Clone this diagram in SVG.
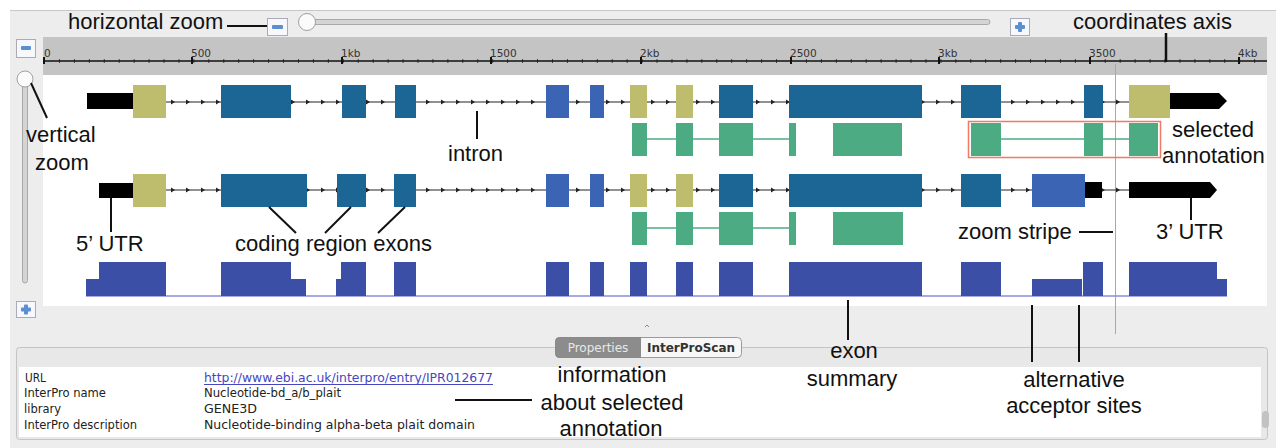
<svg xmlns="http://www.w3.org/2000/svg" width="1276" height="448" viewBox="0 0 1276 448">
<style>
.lbl{font-family:"Liberation Sans",Arial,sans-serif;font-size:22px;fill:#111}
.ax{font-family:"DejaVu Sans",sans-serif;font-size:10.5px;fill:#333}
.prop{font-family:"DejaVu Sans",sans-serif;font-size:12px;fill:#222}
.ptr{stroke:#111;stroke-width:2;fill:none}
.teal{fill:#1c6696}
.blue{fill:#3c64b4}
.khaki{fill:#bdbd6d}
.green{fill:#4dab83}
.utr{fill:#000}
.sum{fill:#3b4fa6}
.btn{fill:#f6f8fb;stroke:#aab;stroke-width:1}
.gl{stroke:#4dab83;stroke-width:1.5}
</style>
<defs>
<pattern id="in1" patternUnits="userSpaceOnUse" x="0" y="98" width="15" height="8">
<line x1="0" y1="4" x2="15" y2="4" stroke="#555" stroke-width="1.3"/>
<polygon points="6,1.5 10,4 6,6.5" fill="#222"/>
</pattern>
<pattern id="in2" patternUnits="userSpaceOnUse" x="0" y="186" width="15" height="8">
<line x1="0" y1="4" x2="15" y2="4" stroke="#555" stroke-width="1.3"/>
<polygon points="6,1.5 10,4 6,6.5" fill="#222"/>
</pattern>
<pattern id="minor" patternUnits="userSpaceOnUse" x="44" y="59" width="14.94" height="4">
<line x1="0.5" y1="0" x2="0.5" y2="4" stroke="#444" stroke-width="1"/>
</pattern>
</defs>

<!-- window background -->
<rect x="0" y="0" width="1276" height="448" fill="#ffffff"/>
<rect x="10" y="10" width="1266" height="438" fill="#ededed"/>
<line x1="10" y1="10.5" x2="1276" y2="10.5" stroke="#c8c8c8"/>

<!-- horizontal zoom slider -->
<g id="hzoom">
<rect x="300" y="19.5" width="690" height="5" rx="2.5" fill="#d4d4d4" stroke="#a8a8a8"/>
<rect class="btn" x="267.5" y="18.5" width="20" height="17"/>
<rect x="272" y="25" width="11" height="4" rx="1" fill="#5b8fd0"/>
<circle cx="307" cy="22" r="8.5" fill="#fbfbfb" stroke="#a0a0a0"/>
<rect class="btn" x="1010.5" y="18.5" width="19" height="17"/>
<rect x="1015" y="25" width="10" height="4" rx="1" fill="#5b8fd0"/>
<rect x="1018" y="22" width="4" height="10" rx="1" fill="#5b8fd0"/>
</g>

<!-- vertical zoom slider -->
<g id="vzoom">
<rect class="btn" x="16.5" y="39.5" width="19" height="18"/>
<rect x="21" y="46" width="10" height="4" rx="1" fill="#5b8fd0"/>
<rect x="22.5" y="84" width="5" height="199" rx="2.5" fill="#d4d4d4" stroke="#a8a8a8"/>
<circle cx="25" cy="79" r="8" fill="#fbfbfb" stroke="#a0a0a0"/>
<rect class="btn" x="16.5" y="301.5" width="19" height="16"/>
<rect x="21" y="307.5" width="10" height="4" rx="1" fill="#5b8fd0"/>
<rect x="24" y="304.5" width="4" height="10" rx="1" fill="#5b8fd0"/>
</g>

<!-- coordinate axis -->
<g id="axis">
<rect x="43" y="37" width="1224" height="38" fill="#c4c4c4"/>
<rect x="44" y="59" width="1223" height="4" fill="url(#minor)"/>
<line x1="44" y1="61" x2="1267" y2="61" stroke="#111" stroke-width="1.5"/>
<path d="M44 57v7M192 57v7M342 57v7M491 57v7M641 57v7M791 57v7M939 57v7M1090 57v7M1239 57v7" stroke="#111" stroke-width="2"/>
<text class="ax" x="44" y="57">0</text>
<text class="ax" x="191" y="57">500</text>
<text class="ax" x="341" y="57">1kb</text>
<text class="ax" x="490" y="57">1500</text>
<text class="ax" x="640" y="57">2kb</text>
<text class="ax" x="790" y="57">2500</text>
<text class="ax" x="938" y="57">3kb</text>
<text class="ax" x="1089" y="57">3500</text>
<text class="ax" x="1238" y="57">4kb</text>
</g>

<!-- main track panel -->
<rect x="43" y="75" width="1224" height="231" fill="#ffffff"/>
<line x1="1115.5" y1="64" x2="1115.5" y2="334" stroke="#a8a8a8" stroke-width="1"/>

<!-- transcript 1 -->
<g id="transcript1">
<rect x="166" y="98" width="55" height="8" fill="url(#in1)"/>
<rect x="291" y="98" width="51" height="8" fill="url(#in1)"/>
<rect x="366" y="98" width="29" height="8" fill="url(#in1)"/>
<rect x="416" y="98" width="130" height="8" fill="url(#in1)"/>
<rect x="569" y="98" width="21" height="8" fill="url(#in1)"/>
<rect x="604" y="98" width="26" height="8" fill="url(#in1)"/>
<rect x="647" y="98" width="29" height="8" fill="url(#in1)"/>
<rect x="693" y="98" width="26" height="8" fill="url(#in1)"/>
<rect x="753" y="98" width="36" height="8" fill="url(#in1)"/>
<rect x="922" y="98" width="39" height="8" fill="url(#in1)"/>
<rect x="1001" y="98" width="83" height="8" fill="url(#in1)"/>
<rect x="1103" y="98" width="26" height="8" fill="url(#in1)"/>
<rect class="utr" x="87" y="93" width="46" height="16"/>
<rect class="khaki" x="133" y="85" width="33" height="33"/>
<rect class="teal" x="221" y="85" width="70" height="33"/>
<rect class="teal" x="342" y="85" width="24" height="33"/>
<rect class="teal" x="395" y="85" width="21" height="33"/>
<rect class="blue" x="546" y="85" width="23" height="33"/>
<rect class="blue" x="590" y="85" width="14" height="33"/>
<rect class="khaki" x="630" y="85" width="17" height="33"/>
<rect class="khaki" x="676" y="85" width="17" height="33"/>
<rect class="teal" x="719" y="85" width="34" height="33"/>
<rect class="teal" x="789" y="85" width="133" height="33"/>
<rect class="teal" x="961" y="85" width="40" height="33"/>
<rect class="teal" x="1084" y="85" width="19" height="33"/>
<rect class="khaki" x="1129" y="85" width="41" height="33"/>
<polygon class="utr" points="1170,93 1219,93 1227,101 1219,109 1170,109"/>
</g>

<!-- annotation 1 -->
<g id="annotation1">
<line class="gl" x1="647" y1="139" x2="796" y2="139"/>
<rect class="green" x="632" y="123" width="15" height="33"/>
<rect class="green" x="676" y="123" width="17" height="33"/>
<rect class="green" x="719" y="123" width="34" height="33"/>
<rect class="green" x="789" y="123" width="7" height="33"/>
<rect class="green" x="833" y="123" width="69" height="33"/>
<line class="gl" x1="1001" y1="139" x2="1129" y2="139"/>
<rect class="green" x="971" y="123" width="30" height="33"/>
<rect class="green" x="1084" y="123" width="19" height="33"/>
<rect class="green" x="1129" y="123" width="29" height="33"/>
<rect x="968.5" y="121.5" width="192" height="36" fill="none" stroke="#f07a66" stroke-width="1.5"/>
</g>

<!-- transcript 2 -->
<g id="transcript2">
<rect x="166" y="186" width="55" height="8" fill="url(#in2)"/>
<rect x="307" y="186" width="30" height="8" fill="url(#in2)"/>
<rect x="366" y="186" width="28" height="8" fill="url(#in2)"/>
<rect x="416" y="186" width="130" height="8" fill="url(#in2)"/>
<rect x="569" y="186" width="21" height="8" fill="url(#in2)"/>
<rect x="604" y="186" width="26" height="8" fill="url(#in2)"/>
<rect x="647" y="186" width="29" height="8" fill="url(#in2)"/>
<rect x="693" y="186" width="26" height="8" fill="url(#in2)"/>
<rect x="753" y="186" width="36" height="8" fill="url(#in2)"/>
<rect x="922" y="186" width="39" height="8" fill="url(#in2)"/>
<rect x="1001" y="186" width="31" height="8" fill="url(#in2)"/>
<rect x="1102" y="186" width="27" height="8" fill="url(#in2)"/>
<rect class="utr" x="99" y="183" width="34" height="15"/>
<rect class="khaki" x="133" y="174" width="33" height="33"/>
<rect class="teal" x="221" y="174" width="86" height="33"/>
<rect class="teal" x="337" y="174" width="29" height="33"/>
<rect class="teal" x="394" y="174" width="22" height="33"/>
<rect class="blue" x="546" y="174" width="23" height="33"/>
<rect class="blue" x="590" y="174" width="14" height="33"/>
<rect class="khaki" x="630" y="174" width="17" height="33"/>
<rect class="khaki" x="676" y="174" width="17" height="33"/>
<rect class="teal" x="719" y="174" width="34" height="33"/>
<rect class="teal" x="789" y="174" width="133" height="33"/>
<rect class="teal" x="961" y="174" width="40" height="33"/>
<rect class="blue" x="1032" y="174" width="53" height="33"/>
<rect class="utr" x="1085" y="182" width="17" height="16"/>
<polygon class="utr" points="1129,182 1210,182 1217,190 1210,198 1129,198"/>
</g>

<!-- annotation 2 -->
<g id="annotation2">
<line class="gl" x1="647" y1="228" x2="796" y2="228"/>
<rect class="green" x="632" y="212" width="15" height="33"/>
<rect class="green" x="676" y="212" width="17" height="33"/>
<rect class="green" x="719" y="212" width="34" height="33"/>
<rect class="green" x="789" y="212" width="7" height="33"/>
<rect class="green" x="833" y="212" width="70" height="33"/>
</g>

<!-- exon summary -->
<g id="exonsummary">
<line x1="86" y1="296" x2="1227" y2="296" stroke="#8b8bd8" stroke-width="1.5"/>
<rect class="sum" x="86" y="279" width="13" height="17"/>
<rect class="sum" x="99" y="262" width="67" height="34"/>
<rect class="sum" x="221" y="262" width="70" height="34"/>
<rect class="sum" x="291" y="279" width="15" height="17"/>
<rect class="sum" x="336" y="279" width="5" height="17"/>
<rect class="sum" x="341" y="262" width="25" height="34"/>
<rect class="sum" x="394" y="262" width="22" height="34"/>
<rect class="sum" x="546" y="262" width="23" height="34"/>
<rect class="sum" x="590" y="262" width="14" height="34"/>
<rect class="sum" x="630" y="262" width="17" height="34"/>
<rect class="sum" x="676" y="262" width="17" height="34"/>
<rect class="sum" x="719" y="262" width="34" height="34"/>
<rect class="sum" x="789" y="262" width="133" height="34"/>
<rect class="sum" x="961" y="262" width="40" height="34"/>
<rect class="sum" x="1032" y="279" width="50" height="17"/>
<rect class="sum" x="1083" y="262" width="20" height="34"/>
<rect class="sum" x="1129" y="262" width="88" height="34"/>
<rect class="sum" x="1217" y="279" width="10" height="17"/>
</g>

<!-- splitter mark -->
<path d="M645 327 l2 -2 l2 2" fill="none" stroke="#888" stroke-width="1"/>

<!-- properties pane -->
<g id="properties">
<rect x="16.5" y="347.5" width="1251" height="92" rx="3" fill="#e8e8e8" stroke="#c4c4c4"/>
<rect x="19" y="367" width="1242" height="70" fill="#ffffff"/>
<rect x="1262" y="411" width="7" height="17" rx="3.5" fill="#c2c2c2"/>
<rect x="555.5" y="337.5" width="186" height="20" rx="4" fill="#f7f7f7" stroke="#9a9a9a"/>
<path d="M559.5 337.5 h81 v20 h-81 a4 4 0 0 1 -4 -4 v-12 a4 4 0 0 1 4 -4z" fill="#8c8c8c" stroke="#8a8a8a"/>
<text x="598" y="352" text-anchor="middle" font-family="DejaVu Sans,sans-serif" font-size="12" fill="#e8e8e8">Properties</text>
<text x="691" y="352" text-anchor="middle" font-family="DejaVu Sans,sans-serif" font-size="12" font-weight="bold" fill="#333">InterProScan</text>
<text class="prop" x="25" y="382" textLength="21" lengthAdjust="spacingAndGlyphs">URL</text>
<text class="prop" x="24" y="397" textLength="82" lengthAdjust="spacingAndGlyphs">InterPro name</text>
<text class="prop" x="24" y="413" textLength="37" lengthAdjust="spacingAndGlyphs">library</text>
<text class="prop" x="24" y="429" textLength="113" lengthAdjust="spacingAndGlyphs">InterPro description</text>
<text class="prop" x="204" y="382" style="fill:#4646c0" textLength="289" lengthAdjust="spacingAndGlyphs">http://www.ebi.ac.uk/interpro/entry/IPR012677</text>
<line x1="204" y1="384.5" x2="493" y2="384.5" stroke="#4646c0" stroke-width="1"/>
<text class="prop" x="204" y="397" textLength="137" lengthAdjust="spacingAndGlyphs">Nucleotide-bd_a/b_plait</text>
<text class="prop" x="204" y="413" textLength="53" lengthAdjust="spacingAndGlyphs">GENE3D</text>
<text class="prop" x="204" y="429" textLength="271" lengthAdjust="spacingAndGlyphs">Nucleotide-binding alpha-beta plait domain</text>
</g>

<!-- callout labels -->
<g id="callouts">
<text class="lbl" x="68" y="29">horizontal zoom</text>
<line class="ptr" x1="227" y1="26" x2="267" y2="26"/>
<text class="lbl" x="1073" y="29">coordinates axis</text>
<line x1="1166" y1="33" x2="1166" y2="62" stroke="#111" stroke-width="2.5"/>
<line class="ptr" x1="31" y1="83" x2="47" y2="118"/>
<text class="lbl" x="26" y="142">vertical</text>
<text class="lbl" x="35" y="170">zoom</text>
<line class="ptr" x1="477" y1="111" x2="477" y2="139"/>
<text class="lbl" x="448" y="161">intron</text>
<text class="lbl" x="1172" y="137">selected</text>
<text class="lbl" x="1162" y="163">annotation</text>
<line class="ptr" x1="111" y1="198" x2="111" y2="232"/>
<text class="lbl" x="76" y="251">5’ UTR</text>
<line class="ptr" x1="269" y1="207" x2="296" y2="233"/>
<line class="ptr" x1="351" y1="207" x2="325" y2="233"/>
<line class="ptr" x1="405" y1="207" x2="378" y2="233"/>
<text class="lbl" x="235" y="251">coding region exons</text>
<text class="lbl" x="958" y="239">zoom stripe</text>
<line class="ptr" x1="1079" y1="232" x2="1113" y2="232"/>
<line class="ptr" x1="1191" y1="198" x2="1191" y2="220"/>
<text class="lbl" x="1156" y="239">3’ UTR</text>
<line class="ptr" x1="848" y1="300" x2="848" y2="340"/>
<text class="lbl" x="854" y="358" text-anchor="middle">exon</text>
<text class="lbl" x="852" y="386" text-anchor="middle">summary</text>
<line class="ptr" x1="1032" y1="305" x2="1032" y2="362"/>
<line class="ptr" x1="1079" y1="305" x2="1079" y2="362"/>
<text class="lbl" x="1074" y="387" text-anchor="middle">alternative</text>
<text class="lbl" x="1074" y="413" text-anchor="middle">acceptor sites</text>
<line class="ptr" x1="455" y1="400" x2="532" y2="400"/>
<text class="lbl" x="612" y="382" text-anchor="middle">information</text>
<text class="lbl" x="612" y="410" text-anchor="middle">about selected</text>
<text class="lbl" x="611" y="436" text-anchor="middle">annotation</text>
</g>
</svg>
